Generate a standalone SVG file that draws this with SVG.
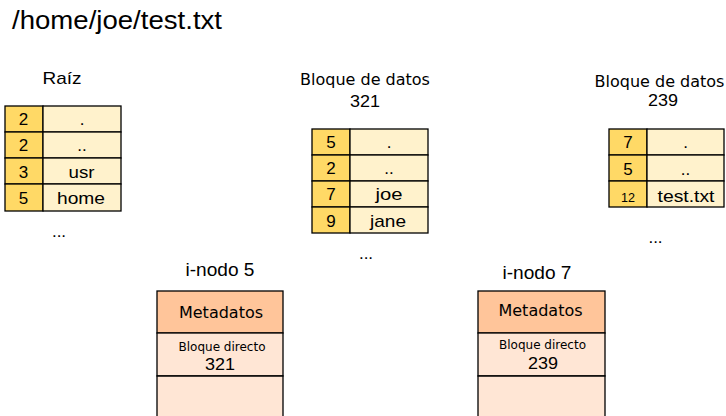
<svg xmlns="http://www.w3.org/2000/svg" width="726" height="416" viewBox="0 0 726 416">
<style>
.num{fill:#FFD966;stroke:#000;stroke-width:1.3}
.nam{fill:#FFF2CC;stroke:#000;stroke-width:1.3}
.t{font-family:"Liberation Sans",Arial,sans-serif;fill:#000;text-anchor:middle}
.d{font-family:"DejaVu Sans",sans-serif;fill:#000;text-anchor:middle}
.meta{fill:#FFC59A;stroke:#000;stroke-width:1.3}
.blk{fill:#FFE6D5;stroke:#000;stroke-width:1.3}
</style>
<rect width="726" height="416" fill="#fff"/>
<text x="12" y="29" font-size="25.5" textLength="210" lengthAdjust="spacingAndGlyphs" font-family="Liberation Sans,Arial,sans-serif" fill="#000">/home/joe/test.txt</text>

<g id="raiz">
<text class="t" x="62" y="84" font-size="17" textLength="39" lengthAdjust="spacingAndGlyphs">Raíz</text>
<rect class="num" x="5" y="106" width="38" height="26"/><rect class="nam" x="43" y="106" width="78" height="26"/>
<rect class="num" x="5" y="132" width="38" height="26"/><rect class="nam" x="43" y="132" width="78" height="26"/>
<rect class="num" x="5" y="158" width="38" height="26"/><rect class="nam" x="43" y="158" width="78" height="26"/>
<rect class="num" x="5" y="184" width="38" height="27"/><rect class="nam" x="43" y="184" width="78" height="27"/>
<g font-size="17">
<text class="t" x="23.5" y="125">2</text><text class="t" x="82" y="125">.</text>
<text class="t" x="23.5" y="151">2</text><text class="t" x="82" y="151">..</text>
<text class="t" x="23.5" y="177.5">3</text><text class="t" x="81.5" y="177.5" textLength="26" lengthAdjust="spacingAndGlyphs">usr</text>
<text class="t" x="23.5" y="204">5</text><text class="t" x="81" y="204" textLength="48" lengthAdjust="spacingAndGlyphs">home</text>
</g>
<text class="t" x="59" y="237" font-size="17">...</text>
</g>

<g id="bloque321">
<text class="d" x="365" y="85" font-size="16">Bloque de datos</text>
<text class="t" x="365" y="106.5" font-size="17" textLength="30" lengthAdjust="spacingAndGlyphs">321</text>
<rect class="num" x="312" y="129" width="38" height="26"/><rect class="nam" x="350" y="129" width="78" height="26"/>
<rect class="num" x="312" y="155" width="38" height="26"/><rect class="nam" x="350" y="155" width="78" height="26"/>
<rect class="num" x="312" y="181" width="38" height="26"/><rect class="nam" x="350" y="181" width="78" height="26"/>
<rect class="num" x="312" y="207" width="38" height="26"/><rect class="nam" x="350" y="207" width="78" height="26"/>
<g font-size="17">
<text class="t" x="331" y="148">5</text><text class="t" x="389" y="148">.</text>
<text class="t" x="331" y="174">2</text><text class="t" x="389" y="174">..</text>
<text class="t" x="331" y="200">7</text><text class="t" x="389" y="200" textLength="27" lengthAdjust="spacingAndGlyphs">joe</text>
<text class="t" x="331" y="226.5">9</text><text class="t" x="388" y="226.5" textLength="36" lengthAdjust="spacingAndGlyphs">jane</text>
</g>
<text class="t" x="366" y="259" font-size="17">...</text>
</g>

<g id="bloque239">
<text class="d" x="659.5" y="86.5" font-size="16">Bloque de datos</text>
<text class="t" x="663" y="106" font-size="17" textLength="30" lengthAdjust="spacingAndGlyphs">239</text>
<rect class="num" x="609" y="129" width="38" height="26"/><rect class="nam" x="647" y="129" width="77" height="26"/>
<rect class="num" x="609" y="155" width="38" height="26"/><rect class="nam" x="647" y="155" width="77" height="26"/>
<rect class="num" x="609" y="181" width="38" height="26"/><rect class="nam" x="647" y="181" width="77" height="26"/>
<g font-size="17">
<text class="t" x="628" y="148">7</text><text class="t" x="685.5" y="148">.</text>
<text class="t" x="628" y="175">5</text><text class="t" x="685.5" y="175">..</text>
<text class="t" x="628" y="201.5" font-size="12.5" textLength="14" lengthAdjust="spacingAndGlyphs">12</text><text class="t" x="686" y="201.5" textLength="57" lengthAdjust="spacingAndGlyphs">test.txt</text>
</g>
<text class="t" x="655.5" y="242.5" font-size="17">...</text>
</g>

<g id="inodo5">
<text class="t" x="220" y="276" font-size="18" textLength="69" lengthAdjust="spacingAndGlyphs">i-nodo 5</text>
<rect class="meta" x="157" y="291" width="126" height="42"/>
<rect class="blk" x="157" y="333" width="126" height="43"/>
<path class="blk" d="M157 420 V376 H283 V420"/>
<text class="d" x="221" y="318" font-size="16">Metadatos</text>
<text class="d" x="222" y="350.5" font-size="12">Bloque directo</text>
<text class="t" x="220" y="370" font-size="17" textLength="30" lengthAdjust="spacingAndGlyphs">321</text>
</g>

<g id="inodo7">
<text class="t" x="537" y="279" font-size="18" textLength="69" lengthAdjust="spacingAndGlyphs">i-nodo 7</text>
<rect class="meta" x="478" y="291" width="127" height="42"/>
<rect class="blk" x="478" y="333" width="127" height="43"/>
<path class="blk" d="M478 420 V376 H605 V420"/>
<text class="d" x="540.5" y="315.5" font-size="16">Metadatos</text>
<text class="d" x="542.5" y="348.5" font-size="12">Bloque directo</text>
<text class="t" x="543" y="368.5" font-size="17" textLength="30" lengthAdjust="spacingAndGlyphs">239</text>
</g>

<g id="connectors"></g>
</svg>
